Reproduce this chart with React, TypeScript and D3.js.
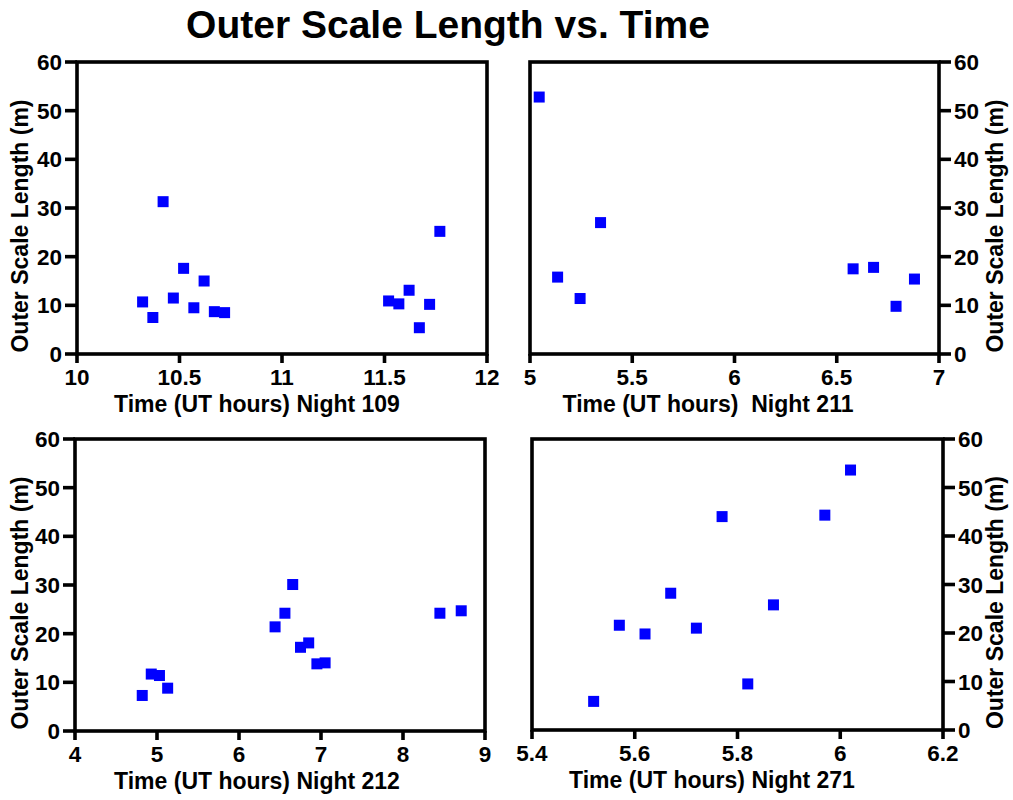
import React from 'react';
import * as d3 from 'd3';

// Night 109
const night109Time = [10.32, 10.37, 10.42, 10.47, 10.52, 10.57, 10.62, 10.67, 10.72, 11.52, 11.57, 11.62, 11.67, 11.72, 11.77];
const night109Scale = [10.7, 7.5, 31.3, 11.5, 17.6, 9.5, 15.0, 8.7, 8.5, 10.9, 10.3, 13.1, 5.4, 10.2, 25.2];

// Night 211
const night211Time = [5.045, 5.135, 5.245, 5.345, 6.58, 6.68, 6.79, 6.88];
const night211Scale = [52.8, 15.8, 11.4, 27.0, 17.5, 17.8, 9.8, 15.4];

// Night 212
const night212Time = [4.82, 4.93, 5.03, 5.13, 6.44, 6.56, 6.655, 6.75, 6.85, 6.95, 7.05, 8.45, 8.71];
const night212Scale = [7.3, 11.7, 11.4, 8.8, 21.4, 24.2, 30.1, 17.2, 18.1, 13.8, 14.0, 24.2, 24.7];

// Night 271
const night271Time = [5.52, 5.57, 5.62, 5.67, 5.72, 5.77, 5.82, 5.87, 5.97, 6.02];
const night271Scale = [5.9, 21.6, 19.8, 28.2, 21.0, 44.0, 9.5, 25.8, 44.3, 53.6];

const yTicks = [0, 10, 20, 30, 40, 50, 60];
const xTicks109 = [10, 10.5, 11, 11.5, 12];
const xTicks211 = [5, 5.5, 6, 6.5, 7];
const xTicks212 = [4, 5, 6, 7, 8, 9];
const xTicks271 = [5.4, 5.6, 5.8, 6, 6.2];

const FONT = '"Liberation Sans", Arial, Helvetica, sans-serif';
const STROKE = 3.6;

interface PanelProps {
  box: { x0: number; x1: number; y0: number; y1: number };
  xs: number[];
  ys: number[];
  xTicks: number[];
  side: 'left' | 'right';
  xLabel: string;
  xLabelCenter: number;
}

function Panel({ box, xs, ys, xTicks, side, xLabel, xLabelCenter }: PanelProps) {
  const x = d3.scaleLinear().domain([xTicks[0], xTicks[xTicks.length - 1]]).range([box.x0, box.x1]);
  const y = d3.scaleLinear().domain([0, 60]).range([box.y1, box.y0]);
  const axisX = side === 'left' ? box.x0 : box.x1;
  const dir = side === 'left' ? -1 : 1;
  const size = 11;

  return (
    <g>
      {/* frame */}
      <rect
        x={box.x0}
        y={box.y0}
        width={box.x1 - box.x0}
        height={box.y1 - box.y0}
        fill="none"
        stroke="#000"
        strokeWidth={STROKE}
      />

      {/* y ticks */}
      {yTicks.map(t => (
        <g key={'y' + t}>
          <line x1={axisX} x2={axisX + dir * 12} y1={y(t)} y2={y(t)} stroke="#000" strokeWidth={STROKE} />
          <text
            x={axisX + dir * 15}
            y={y(t)}
            dy="0.36em"
            textAnchor={side === 'left' ? 'end' : 'start'}
            fontSize={22.5}
            fontWeight="bold"
            fontFamily={FONT}
          >
            {d3.format('d')(t)}
          </text>
        </g>
      ))}

      {/* x ticks */}
      {xTicks.map(t => (
        <g key={'x' + t}>
          <line x1={x(t)} x2={x(t)} y1={box.y1} y2={box.y1 + 9} stroke="#000" strokeWidth={STROKE} />
          <text
            x={x(t)}
            y={box.y1 + 31}
            textAnchor="middle"
            fontSize={22.5}
            fontWeight="bold"
            fontFamily={FONT}
          >
            {String(t)}
          </text>
        </g>
      ))}

      {/* points */}
      {xs.map((v, i) => (
        <rect
          key={i}
          x={x(v) - size / 2}
          y={y(ys[i]) - size / 2}
          width={size}
          height={size}
          fill="#0000ff"
        />
      ))}

      {/* x label */}
      <text
        x={xLabelCenter}
        y={box.y1 + 58}
        textAnchor="middle"
        fontSize={23}
        fontWeight="bold"
        fontFamily={FONT}
        style={{ whiteSpace: 'pre' }}
      >
        {xLabel}
      </text>

      {/* y label */}
      <text
        transform={`translate(${side === 'left' ? 28 : 1003},${(box.y0 + box.y1) / 2 + 18}) rotate(-90)`}
        textAnchor="middle"
        fontSize={23}
        fontWeight="bold"
        fontFamily={FONT}
      >
        Outer Scale Length (m)
      </text>
    </g>
  );
}

export default function App() {
  return (
    <svg
      width={1013}
      height={800}
      style={{ position: 'absolute', left: 0, top: 0, background: '#fff' }}
    >
      <text
        x={448}
        y={38}
        textAnchor="middle"
        fontSize={39}
        fontWeight="bold"
        fontFamily={FONT}
      >
        Outer Scale Length vs. Time
      </text>

      <Panel
        box={{ x0: 77, x1: 487, y0: 62, y1: 354 }}
        xs={night109Time}
        ys={night109Scale}
        xTicks={xTicks109}
        side="left"
        xLabel="Time (UT hours) Night 109"
        xLabelCenter={257}
      />
      <Panel
        box={{ x0: 530, x1: 939, y0: 62, y1: 354 }}
        xs={night211Time}
        ys={night211Scale}
        xTicks={xTicks211}
        side="right"
        xLabel="Time (UT hours)  Night 211"
        xLabelCenter={708}
      />
      <Panel
        box={{ x0: 75, x1: 485, y0: 439, y1: 731 }}
        xs={night212Time}
        ys={night212Scale}
        xTicks={xTicks212}
        side="left"
        xLabel="Time (UT hours) Night 212"
        xLabelCenter={257}
      />
      <Panel
        box={{ x0: 532, x1: 943, y0: 439, y1: 730 }}
        xs={night271Time}
        ys={night271Scale}
        xTicks={xTicks271}
        side="right"
        xLabel="Time (UT hours) Night 271"
        xLabelCenter={712}
      />
    </svg>
  );
}
